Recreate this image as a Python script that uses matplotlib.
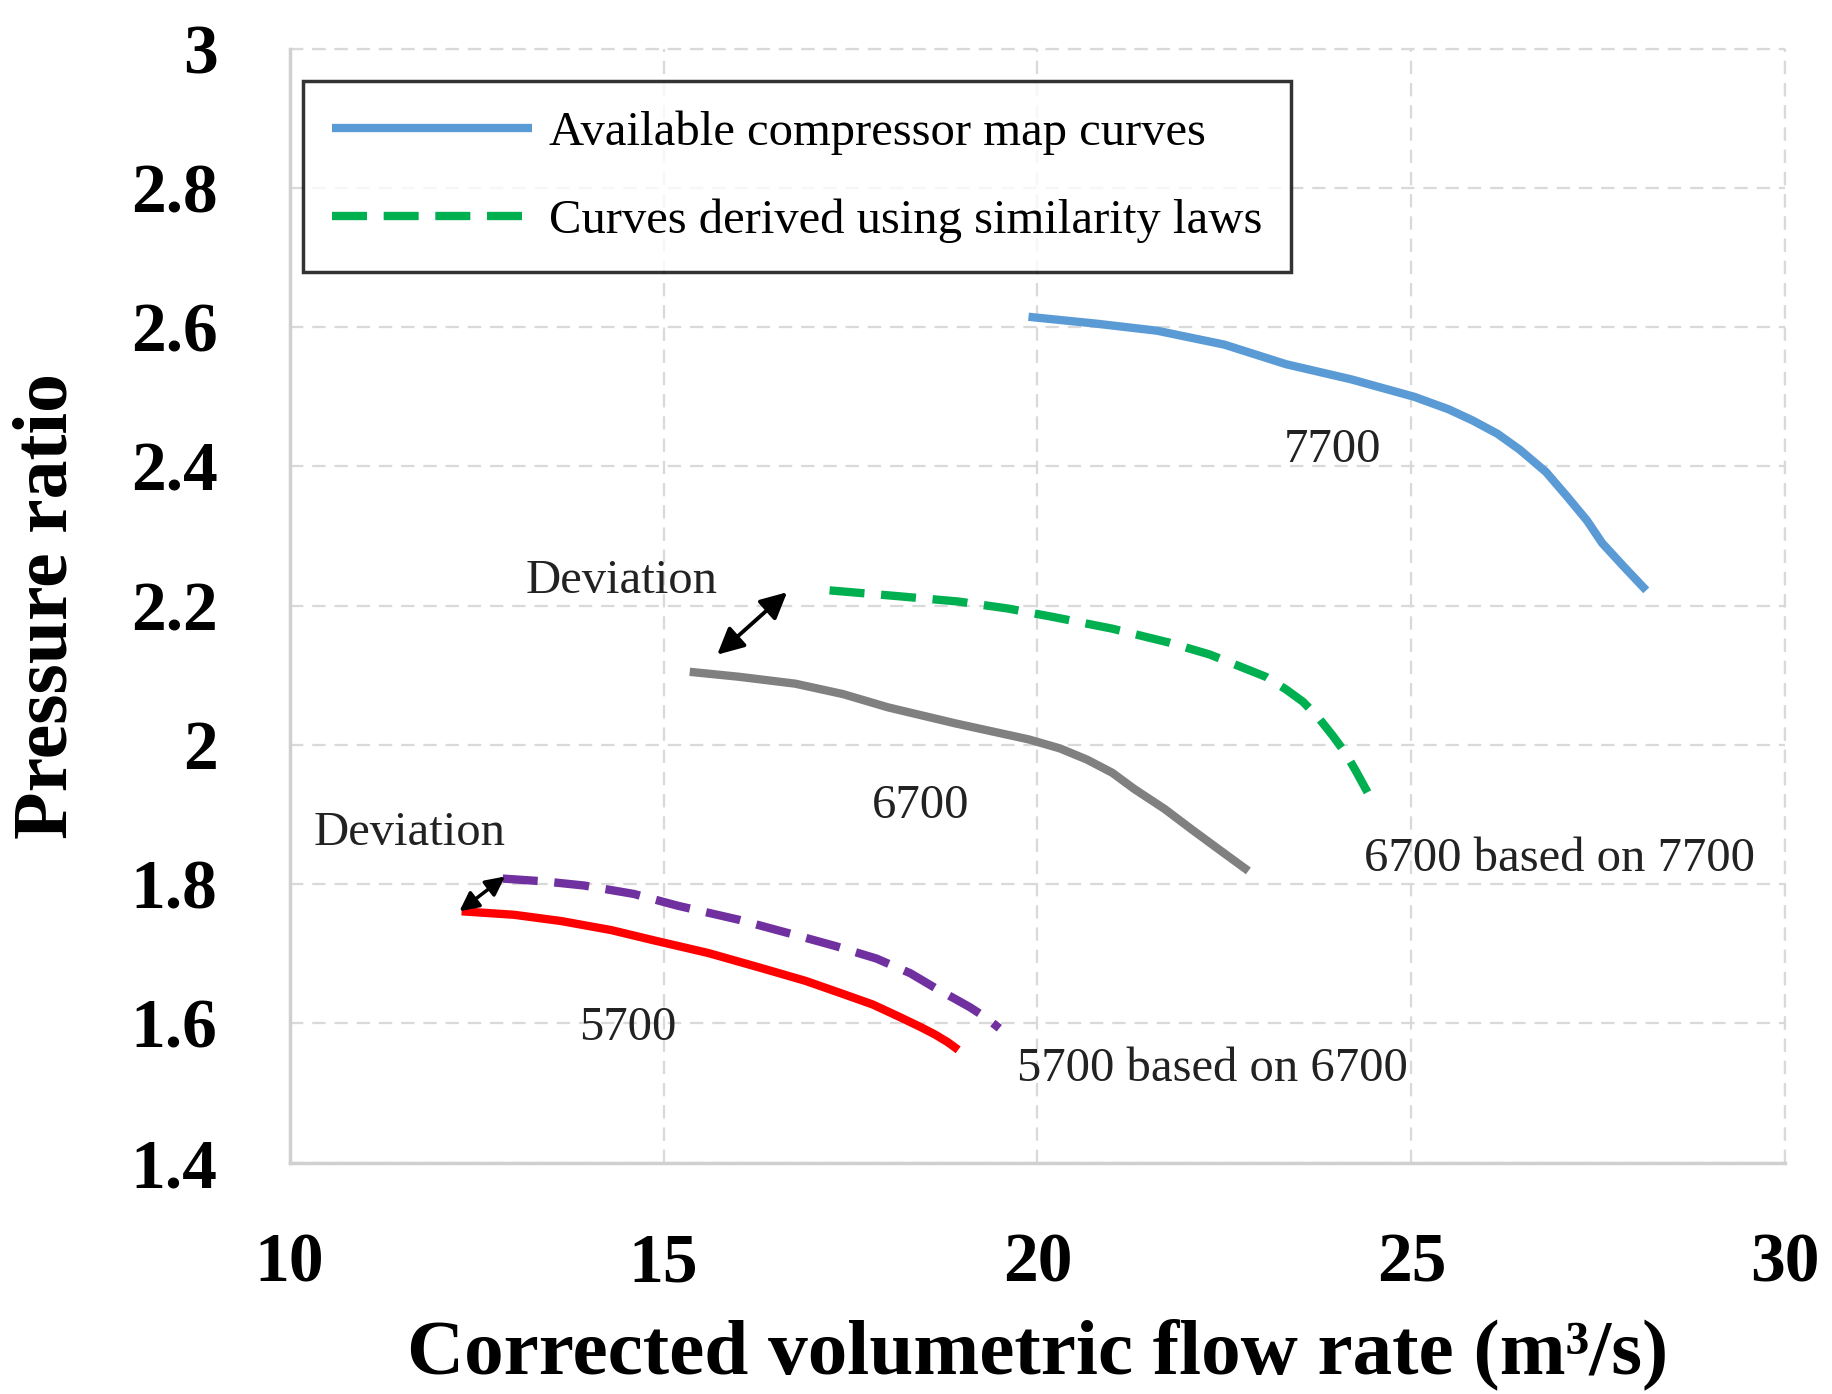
import matplotlib
matplotlib.use("Agg")
import matplotlib.pyplot as plt

plt.rcParams['font.family'] = ['Liberation Serif', 'DejaVu Serif']

# compressor speed lines (flow in m3/s, pressure ratio)
flow_7700 = [19.88, 20.8, 21.6, 22.5, 23.32, 24.2, 25.04, 25.5, 25.82, 26.15, 26.45, 26.8, 27.08, 27.35, 27.55, 27.85, 28.14]
pr_7700 = [2.615, 2.605, 2.595, 2.575, 2.547, 2.525, 2.500, 2.482, 2.466, 2.447, 2.424, 2.392, 2.357, 2.322, 2.290, 2.255, 2.222]

flow_6700_sim = [17.22, 18.1, 18.94, 19.6, 20.2, 21.0, 21.76, 22.3, 22.7, 23.05, 23.32, 23.55, 23.75, 23.95, 24.12, 24.26, 24.5]
pr_6700_sim = [2.222, 2.214, 2.206, 2.196, 2.184, 2.167, 2.147, 2.130, 2.113, 2.098, 2.080, 2.062, 2.040, 2.013, 1.988, 1.962, 1.915]

flow_6700 = [15.35, 16.0, 16.76, 17.4, 18.0, 18.9, 19.88, 20.3, 20.66, 21.0, 21.29, 21.7, 22.07, 22.45, 22.82]
pr_6700 = [2.105, 2.098, 2.088, 2.073, 2.054, 2.031, 2.008, 1.995, 1.979, 1.960, 1.937, 1.908, 1.878, 1.848, 1.819]

flow_5700_sim = [12.85, 13.4, 13.94, 14.6, 15.19, 16.0, 16.76, 17.3, 17.85, 18.3, 18.63, 18.9, 19.1, 19.3, 19.49]
pr_5700_sim = [1.808, 1.804, 1.798, 1.786, 1.769, 1.749, 1.727, 1.711, 1.693, 1.672, 1.651, 1.635, 1.623, 1.609, 1.593]

flow_5700 = [12.30, 13.0, 13.63, 14.3, 14.88, 15.6, 16.29, 16.9, 17.38, 17.8, 18.16, 18.45, 18.63, 18.8, 18.94]
pr_5700 = [1.761, 1.756, 1.747, 1.734, 1.719, 1.701, 1.680, 1.661, 1.643, 1.627, 1.609, 1.594, 1.584, 1.573, 1.562]

x_ticks = [10, 15, 20, 25, 30]
y_ticks = [1.4, 1.6, 1.8, 2.0, 2.2, 2.4, 2.6, 2.8, 3.0]
y_tick_labels = ['1.4', '1.6', '1.8', '2', '2.2', '2.4', '2.6', '2.8', '3']

fig = plt.figure(figsize=(18.33, 13.94), dpi=100)
ax = fig.add_axes([0.158, 0.166, 0.816, 0.799])

dash = (0, (4.2, 2.0))
line_kw = dict(lw=6, solid_capstyle='butt', solid_joinstyle='round')
ax.plot(flow_7700, pr_7700, color='#5B9BD5', label='Available compressor map curves', **line_kw)
ax.plot(flow_6700_sim, pr_6700_sim, color='#00B050', linestyle=dash,
        label='Curves derived using similarity laws', **line_kw)
ax.plot(flow_6700, pr_6700, color='#808080', **line_kw)
ax.plot(flow_5700_sim, pr_5700_sim, color='#7030A0', linestyle=dash, **line_kw)
ax.plot(flow_5700, pr_5700, color='#FF0000', **line_kw)

ax.set_xlim(10, 30)
ax.set_ylim(1.4, 3.0)
ax.set_xticks(x_ticks)
ax.set_yticks(y_ticks)
ax.set_yticklabels(y_tick_labels)
ax.tick_params(axis='both', length=0, labelsize=50)
ax.tick_params(axis='y', pad=52)
ax.tick_params(axis='x', pad=50)
for lab in ax.get_xticklabels() + ax.get_yticklabels():
    lab.set_fontweight('bold')

grid_ls = (0, (6, 4))
ax.grid(True, color='#d9d9d9', linestyle=grid_ls, lw=1.6)
for side in ['top', 'right']:
    ax.spines[side].set_visible(False)
for side in ['left', 'bottom']:
    ax.spines[side].set_color('#d0d0d0')
    ax.spines[side].set_linewidth(2.5)
ax.axhline(3.0, color='#d9d9d9', linestyle=grid_ls, lw=1.6, clip_on=False)
ax.axvline(30, color='#d9d9d9', linestyle=grid_ls, lw=1.6, clip_on=False)

ax.set_xlabel('Corrected volumetric flow rate (m³/s)', fontsize=57,
              fontweight='bold', labelpad=16)
ax.set_ylabel('Pressure ratio', fontsize=56, fontweight='bold', labelpad=34)

# speed labels
txt = dict(fontsize=35, color='#222222')
ax.text(23.95, 2.424, '7700', ha='center', va='center', **txt)
ax.text(18.44, 1.912, '6700', ha='center', va='center', **txt)
ax.text(14.52, 1.593, '5700', ha='center', va='center', **txt)
ax.text(24.37, 1.836, '6700 based on 7700', ha='left', va='center', **txt)
ax.text(19.73, 1.534, '5700 based on 6700', ha='left', va='center', **txt)
ax.text(14.44, 2.236, 'Deviation', ha='center', va='center', **txt)
ax.text(11.6, 1.873, 'Deviation', ha='center', va='center', **txt)

ax.annotate('', xy=(16.68, 2.222), xytext=(15.69, 2.127),
            arrowprops=dict(arrowstyle='<|-|>', color='black', lw=2.8, mutation_scale=40))
ax.annotate('', xy=(12.88, 1.811), xytext=(12.27, 1.761),
            arrowprops=dict(arrowstyle='<|-|>', color='black', lw=2.5, mutation_scale=29,
                            shrinkA=0, shrinkB=0))

leg = ax.legend(loc='upper left', bbox_to_anchor=(0.009, 0.971), borderaxespad=0,
                fontsize=35, frameon=True, fancybox=False, edgecolor='black',
                handlelength=4.1, borderpad=0.6, labelspacing=0.9, handletextpad=0.35)
leg.get_frame().set_linewidth(2.5)

fig.savefig('out.png', dpi=100, facecolor='white')
